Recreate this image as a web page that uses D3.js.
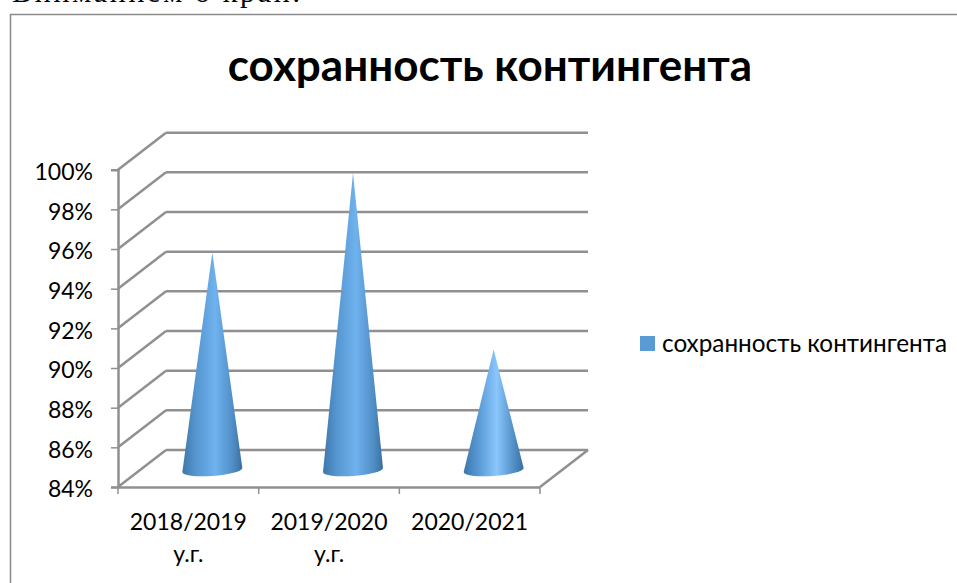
<!DOCTYPE html>
<html>

<head>
  <meta charset="utf-8">
  <title>сохранность контингента</title>
  <script src="https://d3js.org/d3.v7.min.js"></script>
  <style>
    body { margin: 0; background: #fff; }
    svg { display: block; }
    text { font-family: Lato, "Noto Sans", sans-serif; fill: #000; }
  </style>
</head>

<body>
  <script>
    // data
    var categories = ["2018/2019 у.г.", "2019/2020 у.г.", "2020/2021"];
    var values = [94.9, 98.9, 90.0];
    var yTicks = [84, 86, 88, 90, 92, 94, 96, 98, 100];
    var seriesName = "сохранность контингента";

    var width = 957;
    var height = 583;
    var depthX = 48, depthY = -37; // 3d offset from the front wall to the back wall
    var gridColor = "#909090";

    var svg = d3.select("body").append("svg").attr("width", width).attr("height", height);

    // cut-off line of the document above the chart
    svg.append("text")
      .attr("x", 12).attr("y", 2)
      .attr("textLength", 288)
      .style("font-family", "'Liberation Serif', serif")
      .style("font-size", "30px")
      .text("Вниманием о край.");

    // chart frame, runs off the right and bottom
    svg.append("path")
      .attr("d", "M10.5," + height + "V14.5H" + width)
      .attr("fill", "none")
      .attr("stroke", "#8a8a8a")
      .attr("stroke-width", 1.5);

    svg.append("text")
      .attr("x", 490).attr("y", 81)
      .attr("text-anchor", "middle")
      .style("font-size", "44px")
      .style("font-weight", "bold")
      .text(seriesName);

    var x = d3.scaleBand().domain(categories).range([118, 540]);
    var y = d3.scaleLinear().domain([84, 100]).range([487, 169.7]);

    // gradient for the cones
    var defs = svg.append("defs");
    var grad = defs.selectAll("linearGradient")
      .data(["#6fb2ee", "#6fb2ee", "#88c6fc"])
      .enter().append("linearGradient")
      .attr("id", function (d, i) { return "cone" + i; });
    grad.append("stop").attr("offset", "0%").attr("stop-color", "#3d77a9");
    grad.append("stop").attr("offset", "22%").attr("stop-color", "#5595d0");
    grad.append("stop").attr("offset", "55%").attr("stop-color", function (d) { return d; });
    grad.append("stop").attr("offset", "85%").attr("stop-color", "#4f8cc4");
    grad.append("stop").attr("offset", "100%").attr("stop-color", "#3a6f9e");

    // back wall lines
    svg.append("g").selectAll("line")
      .data(yTicks)
      .enter().append("line")
      .attr("x1", 118 + depthX).attr("x2", 540 + depthX)
      .attr("y1", function (d) { return y(d) + depthY; })
      .attr("y2", function (d) { return y(d) + depthY; })
      .attr("stroke", gridColor).attr("stroke-width", 2.5);

    // side wall lines
    svg.append("g").selectAll("line")
      .data(yTicks)
      .enter().append("line")
      .attr("x1", 118).attr("x2", 118 + depthX)
      .attr("y1", function (d) { return y(d); })
      .attr("y2", function (d) { return y(d) + depthY; })
      .attr("stroke", gridColor).attr("stroke-width", 2.5);

    // floor edge on the right
    svg.append("line")
      .attr("x1", 540).attr("x2", 540 + depthX)
      .attr("y1", y(84)).attr("y2", y(84) + depthY)
      .attr("stroke", gridColor).attr("stroke-width", 2.5);

    // axes
    var yAxis = svg.append("g")
      .attr("transform", "translate(118,0)")
      .call(d3.axisLeft(y).tickValues(yTicks).tickSize(7).tickPadding(18)
        .tickFormat(function (d) { return d + "%"; }));
    yAxis.selectAll("text").style("font-size", "23px").attr("dy", "0.42em");
    yAxis.selectAll("line").attr("stroke", gridColor).attr("stroke-width", 1.5);
    yAxis.select(".domain").attr("stroke", gridColor).attr("stroke-width", 2.5);

    var xAxis = svg.append("g")
      .attr("transform", "translate(0," + y(84) + ")")
      .call(d3.axisBottom(x).tickSize(0).tickFormat(""));
    xAxis.select(".domain").attr("stroke", gridColor).attr("stroke-width", 2.5);

    // ticks sit between the categories
    svg.append("g").selectAll("line")
      .data(categories)
      .enter().append("line")
      .attr("x1", function (d) { return x(d) + x.step(); })
      .attr("x2", function (d) { return x(d) + x.step(); })
      .attr("y1", y(84)).attr("y2", y(84) + 7)
      .attr("stroke", gridColor).attr("stroke-width", 1.5);
    svg.append("line")
      .attr("x1", 118).attr("x2", 118)
      .attr("y1", y(84)).attr("y2", y(84) + 7)
      .attr("stroke", gridColor).attr("stroke-width", 1.5);

    // category labels on two lines
    xAxis.selectAll(".tick text").remove();
    var labels = svg.append("g").selectAll("text")
      .data(categories)
      .enter().append("text")
      .attr("text-anchor", "middle")
      .style("font-size", "23px");
    labels.each(function (d) {
      var parts = d.split(" ");
      var cx = x(d) + x.bandwidth() / 2;
      d3.select(this).selectAll("tspan").data(parts).enter().append("tspan")
        .attr("x", cx)
        .attr("y", function (p, i) { return 530 + i * 32; })
        .text(function (p) { return p; });
    });

    // cones stand in the middle of the floor depth
    var baseRx = 30, baseRy = 6;
    svg.append("g").selectAll("path")
      .data(categories)
      .enter().append("path")
      .attr("fill", function (d, i) { return "url(#cone" + i + ")"; })
      .attr("d", function (d, i) {
        var cx = x(d) + x.bandwidth() / 2 + depthX / 2;
        var cy = y(84) + depthY / 2 + 1.5;
        var top = y(values[i]) + depthY / 2;
        var lx = cx - baseRx, ly = cy + 2;
        var rx = cx + baseRx, ry = cy - 2;
        return "M" + cx + "," + top + "L" + rx + "," + ry +
          "A" + baseRx + "," + baseRy + " -4 0 1 " + lx + "," + ly + "Z";
      });

    // legend
    svg.append("rect")
      .attr("x", 640).attr("y", 336)
      .attr("width", 15).attr("height", 15)
      .attr("fill", "#5b9bd5");
    svg.append("text")
      .attr("x", 662).attr("y", 352)
      .style("font-size", "24.3px")
      .text(seriesName);
  </script>
</body>

</html>
